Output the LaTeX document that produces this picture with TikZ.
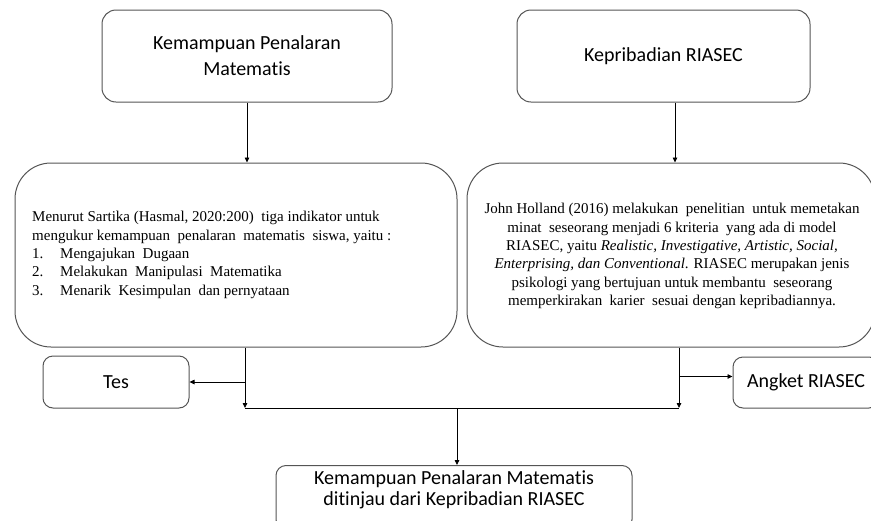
\documentclass[tikz,border=0pt]{standalone}
\usepackage{fontspec}
\setmainfont{Liberation Serif}
\newfontfamily\calfont[Ligatures=NoCommon]{Carlito}
\usetikzlibrary{arrows.meta}
\definecolor{boxgray}{HTML}{555555}
\begin{document}
\begin{tikzpicture}[x=1pt,y=-1pt,
  box/.style={draw=boxgray, line width=1pt, rounded corners=#1, inner sep=0pt, align=center},
  box/.default=12pt,
  ttl/.style={font=\calfont\fontsize{20}{26}\selectfont},
  ttlb/.style={font=\calfont\fontsize{20}{21}\selectfont},
  body/.style={font=\fontsize{15}{18.3}\selectfont, inner sep=0pt},
  conn/.style={draw=black, line width=0.8pt},
  arr/.style={conn, -{Triangle[length=5pt,width=4.5pt]}}]
\useasboundingbox (0,0) rectangle (871,520);
\clip (0,0) rectangle (871,520);
% boxes
\node[box=14pt, ttl, minimum width=290pt, minimum height=92pt] (b1) at (247,56) {Kemampuan Penalaran\\Matematis};
\node[box=14pt, ttl, minimum width=293pt, minimum height=92pt] (b2) at (663.5,56) {Kepribadian RIASEC};
\node[box=36pt, minimum width=442pt, minimum height=184pt] (b3) at (236,255) {};
\node[box=36pt, minimum width=408pt, minimum height=184pt] (b4) at (671,255) {};
\node[box=10pt, ttl, minimum width=146pt, minimum height=52pt] (tes) at (116,382) {Tes};
\node[box=10pt, ttl, minimum width=146pt, minimum height=51pt] (ang) at (806,382.5) {Angket RIASEC};
\node[box=10pt, ttlb, minimum width=356pt, minimum height=64pt, anchor=north] (b5) at (454,465) {};
\node[ttlb, align=center, inner sep=0pt] (b5t) at (454,490) {Kemampuan Penalaran Matematis\\ditinjau dari Kepribadian RIASEC};
% body texts
\node[body, anchor=west, align=left] (b3t) at (32,255) {Menurut Sartika (Hasmal, 2020:200)\ \ tiga indikator untuk\\
mengukur kemampuan\ \ penalaran\ \ matematis\ \ siswa,\ yaitu :\\
\makebox[28pt][l]{1.}Mengajukan\ \ Dugaan\\
\makebox[28pt][l]{2.}Melakukan\ \ Manipulasi\ \ Matematika\\
\makebox[28pt][l]{3.}Menarik\ \ Kesimpulan\ \ dan pernyataan};
\node[body, align=center] (b4t) at (672,256) {John Holland (2016) melakukan\ \ penelitian\ \ untuk memetakan\\
minat\ \ seseorang menjadi 6 kriteria\ \ yang ada di model\\
RIASEC, yaitu \textit{Realistic, Investigative, Artistic, Social,}\\
\textit{Enterprising, dan Conventional}. RIASEC merupakan jenis\\
psikologi yang bertujuan untuk membantu\ \ seseorang\\
memperkirakan\ \ karier\ \ sesuai dengan kepribadiannya.};
% junction points
\coordinate (jl) at (245,408);
\coordinate (jr) at (679,408);
\coordinate (jc) at (457,408);
% connectors
\draw[arr] (b1.south) -- (b1.south |- b3.north);
\draw[arr] ([xshift=11.5pt]b2.south) -- ([xshift=11.5pt]b2.south |- b4.north);
\draw[arr] (jl |- b3.south) -- (jl);
\draw[arr] (jr |- b4.south) -- (jr);
\draw[arr] (tes.east -| jl) -- (tes.east);
\draw[arr] ([yshift=6pt]ang.west -| jr) -- ([yshift=6pt]ang.west);
\draw[conn] (jl) -- (jr);
\draw[arr] (jc) -- (jc |- b5.north);
\end{tikzpicture}
\end{document}
